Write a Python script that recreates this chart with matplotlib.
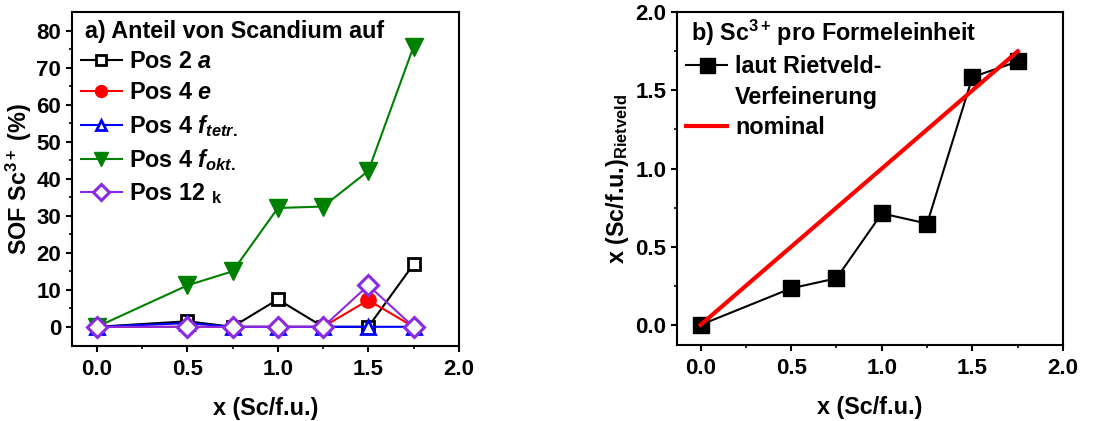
import matplotlib.pyplot as plt
from matplotlib.lines import Line2D
import numpy as np

plt.rcParams['font.family'] = 'Liberation Sans'
plt.rcParams['font.weight'] = 'bold'
plt.rcParams['mathtext.fontset'] = 'custom'
plt.rcParams['mathtext.rm'] = 'Liberation Sans:bold'
plt.rcParams['mathtext.bf'] = 'Liberation Sans:bold'
plt.rcParams['mathtext.it'] = 'Liberation Sans:italic:bold'

x = [0, 0.5, 0.75, 1.0, 1.25, 1.5, 1.75]

# SOF of Sc3+ per crystallographic site (%)
pos_2a = [0, 1.5, 0, 7.4, 0, 0, 16.9]
pos_4e = [0, 0, 0, 0, 0, 7.2, 0]
pos_4f_tetr = [0, 1.0, 0, 0, 0, 0, 0]
pos_4f_okt = [0, 11.2, 15.0, 32.1, 32.5, 42.1, 75.7]
pos_12k = [0, 0, 0, 0, 0, 11.2, 0]

# Sc per formula unit from Rietveld refinement vs nominal
x_riet = [0, 0.234, 0.298, 0.713, 0.648, 1.585, 1.685]
x_nom = [0, 1.75]

fs = 16.8
tfs = 16

fig = plt.figure(figsize=(11.19, 4.21), dpi=100)
ax1 = fig.add_axes([0.064, 0.178, 0.346, 0.793])
ax2 = fig.add_axes([0.605, 0.180, 0.345, 0.791])

ax1.plot(x, pos_2a, '-s', color='black', mfc='white', mec='black', ms=9, mew=2, lw=1.5,
         label=r'Pos 2 $\mathit{a}$')
ax1.plot(x, pos_4e, '-o', color='red', ms=11, lw=1.5, label=r'Pos 4 $\mathit{e}$')
ax1.plot(x, pos_4f_tetr, '-^', color='blue', mfc='white', mec='blue', ms=10, mew=2, lw=1.5,
         label=r'Pos 4 $\mathit{f}_{\mathit{tetr.}}$')
ax1.plot(x, pos_4f_okt, '-v', color='green', ms=13, lw=1.5,
         label=r'Pos 4 $\mathit{f}_{\mathit{okt.}}$')
ax1.plot(x, pos_12k, '-D', color='#8a2be2', mfc='white', mec='#8a2be2', ms=10, mew=2.2, lw=1.5,
         label=r'Pos 12 $_{\mathrm{k}}$')

ax1.set_xlim(-0.14, 2.0)
ax1.set_ylim(-5.2, 85)
ax1.set_xticks([0, 0.5, 1.0, 1.5, 2.0])
ax1.set_xticks(np.arange(0.25, 2.0, 0.5), minor=True)
ax1.set_yticks(range(0, 90, 10))
ax1.set_yticks(range(5, 85, 10), minor=True)
ax1.set_xlabel('x (Sc/f.u.)', fontsize=fs, fontweight='bold', labelpad=12)
ax1.set_ylabel(r'SOF Sc$^{3+}$ (%)', fontsize=fs, fontweight='bold')
ax1.yaxis.set_label_coords(-0.098, 0.5)
ax1.text(0.035, 0.978, 'a) Anteil von Scandium auf', transform=ax1.transAxes,
         fontsize=fs, fontweight='bold', va='top', ha='left')
ax1.legend(loc='upper left', bbox_to_anchor=(0.0, 0.915), frameon=False, fontsize=fs,
           handlelength=1.75, handletextpad=0.3, labelspacing=0.36, borderaxespad=0.0,
           markerscale=0.78)

riet, = ax2.plot(x, x_riet, '-s', color='black', ms=12, lw=1.5, label='laut Rietveld-')
nom, = ax2.plot(x_nom, x_nom, '-', color='red', lw=3, label='nominal')
ax2.set_xlim(-0.13, 2.0)
ax2.set_ylim(-0.13, 2.0)
ax2.set_xticks([0, 0.5, 1.0, 1.5, 2.0])
ax2.set_xticks(np.arange(0.25, 2.0, 0.5), minor=True)
ax2.set_yticks([0, 0.5, 1.0, 1.5, 2.0])
ax2.set_yticks(np.arange(0.25, 2.0, 0.5), minor=True)
ax2.set_xlabel('x (Sc/f.u.)', fontsize=fs, fontweight='bold', labelpad=12)
ax2.set_ylabel(r'x (Sc/f.u.)$_{\mathrm{Rietveld}}$', fontsize=fs, fontweight='bold')
ax2.yaxis.set_label_coords(-0.12, 0.5)
ax2.text(0.035, 0.982, r'b) Sc$^{3+}\,$pro Formeleinheit', transform=ax2.transAxes,
         fontsize=fs, fontweight='bold', va='top', ha='left')
# second line of the Rietveld label gets an empty handle so the marker sits on line one
blank = Line2D([], [], linestyle='none')
ax2.legend([riet, blank, nom], ['laut Rietveld-', 'Verfeinerung', 'nominal'],
           loc='upper left', bbox_to_anchor=(0.0, 0.9), frameon=False, fontsize=fs,
           handlelength=1.75, handletextpad=0.35, labelspacing=0.33, borderaxespad=0.0,
           markerscale=0.9)

for ax in (ax1, ax2):
    for s in ax.spines.values():
        s.set_linewidth(1.5)
    ax.tick_params(which='major', direction='out', length=4.5, width=1.5, labelsize=tfs)
    ax.tick_params(which='minor', direction='out', length=2.5, width=1.2)
    ax.tick_params(axis='x', which='major', pad=5)
    ax.tick_params(axis='y', which='major', pad=3)
    ax.tick_params(top=False, right=False)
    for lab in ax.get_xticklabels() + ax.get_yticklabels():
        lab.set_fontweight('bold')

fig.savefig('out.png', dpi=100)
